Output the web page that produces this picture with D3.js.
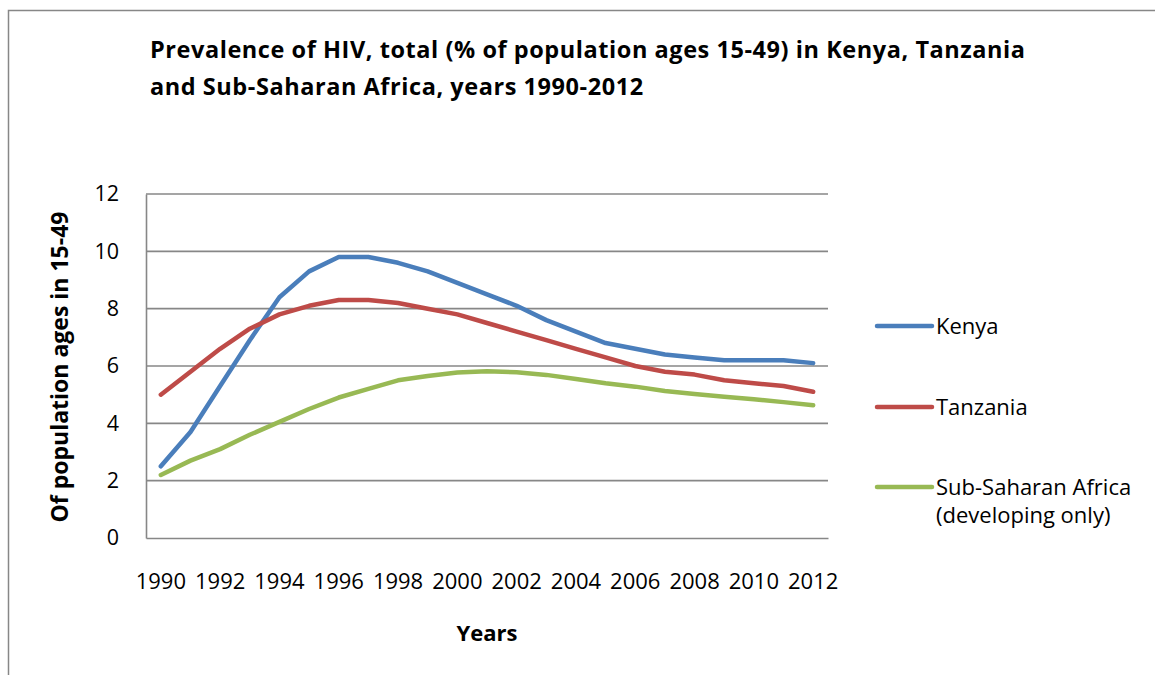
<!DOCTYPE html>
<html>
<head>
<meta charset="utf-8">
<script src="https://cdn.jsdelivr.net/npm/d3@7"></script>
<style>
  html, body { margin: 0; padding: 0; background: #fff; }
  svg { display: block; font-family: "Open Sans", sans-serif; }
</style>
</head>
<body>
<svg id="chart" width="1155" height="675"></svg>
<script>
// HIV prevalence, % of population ages 15-49
const years = d3.range(1990, 2013);
const kenya = [2.5, 3.7, 5.3, 6.9, 8.4, 9.3, 9.8, 9.8, 9.6, 9.3, 8.9, 8.5,
               8.1, 7.6, 7.2, 6.8, 6.6, 6.4, 6.3, 6.2, 6.2, 6.2, 6.1];
const tanzania = [5.0, 5.8, 6.6, 7.3, 7.8, 8.1, 8.3, 8.3, 8.2, 8.0, 7.8, 7.5,
                  7.2, 6.9, 6.6, 6.3, 6.0, 5.8, 5.7, 5.5, 5.4, 5.3, 5.1];
const subSaharan = [2.2, 2.7, 3.1, 3.6, 4.05, 4.5, 4.9, 5.2, 5.5, 5.65, 5.77, 5.82,
                    5.78, 5.69, 5.55, 5.4, 5.28, 5.13, 5.02, 4.93, 4.84, 4.74, 4.63];
const seriesNames = ["Kenya", "Tanzania", "Sub-Saharan Africa (developing only)"];
const yTicks = [0, 2, 4, 6, 8, 10, 12];
const xTickLabels = years.filter(y => (y - 1990) % 2 === 0);

const series = [
  { name: seriesNames[0], values: kenya, color: "#4A7EBB" },
  { name: seriesNames[1], values: tanzania, color: "#BE4B48" },
  { name: seriesNames[2], values: subSaharan, color: "#98B954" }
];

const svg = d3.select("#chart");
const grid = "#878787";
const font = "'Open Sans', sans-serif";

// spread a text element's letters so that it spans the given width
function fitWidth(sel, width) {
  const node = sel.node();
  const n = node.getNumberOfChars();
  const w = node.getComputedTextLength();
  const ls = Math.max(0, (width - w) / Math.max(1, n - 1));
  sel.attr("letter-spacing", ls.toFixed(2));
  return ls;
}

// chart-area frame (open on the right and bottom)
svg.append("path")
  .attr("d", "M8.5,675 L8.5,10.5 L1155,10.5")
  .attr("fill", "none").attr("stroke", grid).attr("stroke-width", 1.5);

const plot = { left: 146, right: 828, top: 194, bottom: 538 };

const x = d3.scaleBand().domain(years).range([plot.left, plot.right]);
const y = d3.scaleLinear().domain([0, 12]).range([plot.bottom, plot.top]);
const cx = d => x(d) + x.bandwidth() / 2;

// horizontal gridlines
svg.append("g").selectAll("line").data(yTicks.filter(t => t > 0)).join("line")
  .attr("x1", plot.left).attr("x2", plot.right)
  .attr("y1", d => y(d)).attr("y2", d => y(d))
  .attr("stroke", grid).attr("stroke-width", 1.6);

// y axis
const yAxis = svg.append("g").attr("transform", `translate(${plot.left},0)`)
  .call(d3.axisLeft(y).tickValues(yTicks).tickSize(0).tickPadding(27).tickFormat(d3.format("d")));
yAxis.select(".domain").attr("stroke", grid).attr("stroke-width", 1.6);
yAxis.selectAll("text").attr("font-size", 21.5).attr("fill", "#000").attr("font-family", font);

// x axis
const xAxis = svg.append("g").attr("transform", `translate(0,${plot.bottom})`)
  .call(d3.axisBottom(x).tickValues(xTickLabels).tickSize(0).tickPadding(35).tickFormat(d3.format("d")));
xAxis.select(".domain").attr("stroke", grid).attr("stroke-width", 1.6);
xAxis.selectAll("text").attr("font-size", 22).attr("fill", "#000").attr("font-family", font);

// series lines
const line = d3.line().x((d, i) => cx(years[i])).y(d => y(d));
svg.append("g").selectAll("path").data(series).join("path")
  .attr("d", d => line(d.values))
  .attr("fill", "none")
  .attr("stroke", d => d.color)
  .attr("stroke-width", 4.5)
  .attr("stroke-linejoin", "round")
  .attr("stroke-linecap", "round");

// title
const titleLines = [
  "Prevalence of HIV, total (% of population ages 15-49) in Kenya, Tanzania",
  "and Sub-Saharan Africa, years 1990-2012"
];
const t1 = svg.append("text").attr("x", 150).attr("y", 57.5)
  .attr("font-size", 23.5).attr("font-weight", "bold").attr("fill", "#000")
  .text(titleLines[0]);
const titleSpacing = fitWidth(t1, 875);
svg.append("text").attr("x", 150).attr("y", 95)
  .attr("font-size", 23.5).attr("font-weight", "bold").attr("fill", "#000")
  .attr("letter-spacing", titleSpacing.toFixed(2))
  .text(titleLines[1]);

// axis titles
const yTitle = svg.append("text")
  .attr("transform", "translate(68,367) rotate(-90)")
  .attr("text-anchor", "middle")
  .attr("font-size", 23).attr("font-weight", "bold").attr("fill", "#000")
  .text("Of population ages in 15-49");
fitWidth(yTitle, 303);

svg.append("text")
  .attr("x", 487).attr("y", 641)
  .attr("text-anchor", "middle")
  .attr("font-size", 22).attr("font-weight", "bold").attr("fill", "#000")
  .text("Years");

// legend
const legendY = [326, 407, 487];
const legend = svg.append("g").selectAll("g").data(series).join("g")
  .attr("transform", (d, i) => `translate(877,${legendY[i]})`);
legend.append("line")
  .attr("x1", 0).attr("x2", 55).attr("y1", 0).attr("y2", 0)
  .attr("stroke", d => d.color).attr("stroke-width", 4.5).attr("stroke-linecap", "round");
legend.each(function(d) {
  const t = d3.select(this).append("text")
    .attr("font-size", 22).attr("fill", "#000");
  const parts = d.name.split(" (");
  t.append("tspan").attr("x", 59).attr("y", 8).text(parts[0]);
  if (parts.length > 1) {
    t.append("tspan").attr("x", 59).attr("dy", 28).text("(" + parts[1]);
  }
});
</script>
</body>
</html>
